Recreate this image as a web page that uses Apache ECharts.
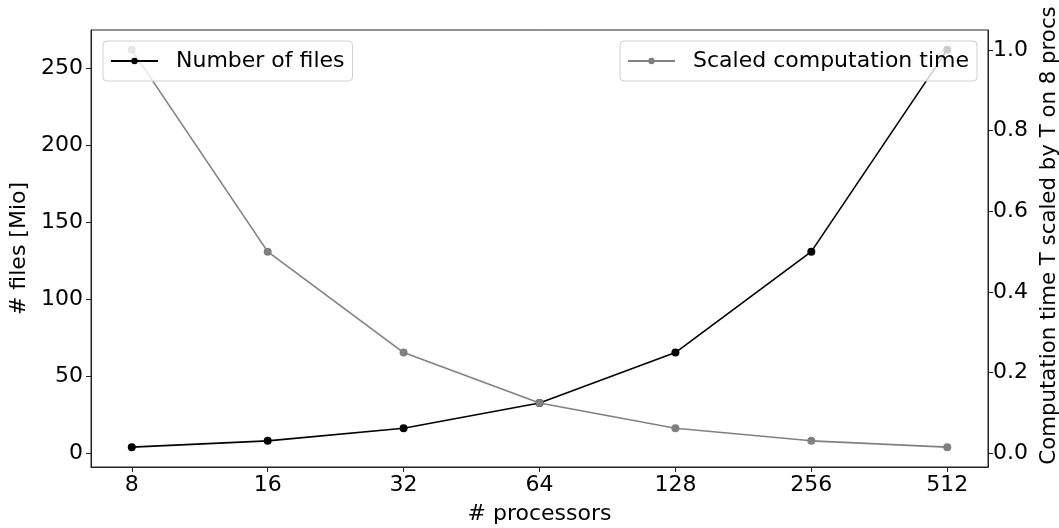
<!DOCTYPE html>
<html>
<head>
<meta charset="utf-8">
<script src="https://cdn.jsdelivr.net/npm/echarts@6/dist/echarts.min.js"></script>
<style>
  html, body { margin: 0; padding: 0; background: #fff; }
  #chart { width: 1059px; height: 528px; }
</style>
</head>
<body>
<div id="chart"></div>
<script>
// processors on the x axis
const procs = ['8', '16', '32', '64', '128', '256', '512']
// number of files in Mio (left axis)
const numFiles = [4.096, 8.192, 16.384, 32.768, 65.536, 131.072, 262.144]
// computation time scaled by T on 8 procs (right axis)
const scaledTime = [1.0, 0.5, 0.25, 0.125, 0.0625, 0.03125, 0.015625]
// tick labels
const xTicks = [0, 1, 2, 3, 4, 5, 6]
const leftTicks = [0, 50, 100, 150, 200, 250]
const rightTicks = [0, 0.2, 0.4, 0.6, 0.8, 1.0]

const font = 'DejaVu Sans'
const fs = 22
const chart = echarts.init(document.getElementById('chart'))

const legendBase = {
  orient: 'horizontal',
  top: 41,
  itemWidth: 47,
  itemHeight: 8,
  padding: [9, 8, 9, 7],
  backgroundColor: 'rgba(255,255,255,0.8)',
  borderColor: '#d0d0d0',
  borderWidth: 1,
  borderRadius: 4,
  textStyle: { fontFamily: font, fontSize: fs, color: '#000', padding: [0, 0, 0, 13] }
}

const axisLineStyle = { show: true, onZero: false, lineStyle: { color: '#222', width: 1 } }

const option = {
  animation: false,
  backgroundColor: '#fff',
  grid: {
    left: 91, right: 71, top: 30, bottom: 61,
    outerBoundsMode: 'none',
    containLabel: false,
    show: true, borderColor: '#222', borderWidth: 1, backgroundColor: 'transparent'
  },
  legend: [
    Object.assign({}, legendBase, { left: 103, data: ['Number of files'] }),
    Object.assign({}, legendBase, { right: 82, data: ['Scaled computation time'] })
  ],
  xAxis: {
    type: 'value',
    min: -0.3,
    max: 6.3,
    name: '# processors',
    nameLocation: 'middle',
    nameGap: 36,
    nameTextStyle: { fontFamily: font, fontSize: fs, color: '#000' },
    axisLine: axisLineStyle,
    axisTick: { show: true, length: 5, lineStyle: { color: '#222' }, customValues: xTicks },
    axisLabel: {
      fontFamily: font, fontSize: fs, color: '#000', margin: 7,
      customValues: xTicks,
      formatter: (v) => procs[Math.round(v)]
    },
    splitLine: { show: false }
  },
  yAxis: [
    {
      type: 'value',
      position: 'left',
      min: -8.806,
      max: 275.046,
      name: '# files [Mio]',
      nameLocation: 'middle',
      nameRotate: 90,
      nameGap: 58,
      nameTextStyle: { fontFamily: font, fontSize: fs, color: '#000' },
      axisLine: axisLineStyle,
      axisTick: { show: true, length: 5, lineStyle: { color: '#222' }, customValues: leftTicks },
      axisLabel: {
        fontFamily: font, fontSize: fs, color: '#000', margin: 8,
        customValues: leftTicks,
        formatter: (v) => String(v)
      },
      splitLine: { show: false }
    },
    {
      type: 'value',
      position: 'right',
      min: -0.0336,
      max: 1.0492,
      name: 'Computation time T scaled by T on 8 procs',
      nameLocation: 'middle',
      nameRotate: 90,
      nameGap: 47,
      nameTextStyle: { fontFamily: font, fontSize: 21.3, color: '#000', padding: [0, 0, 0, 26] },
      axisLine: axisLineStyle,
      axisTick: { show: true, length: 5, lineStyle: { color: '#222' }, customValues: rightTicks },
      axisLabel: {
        fontFamily: font, fontSize: fs, color: '#000', margin: 5,
        customValues: rightTicks,
        formatter: (v) => v.toFixed(1)
      },
      splitLine: { show: false }
    }
  ],
  series: [
    {
      name: 'Number of files',
      type: 'line',
      yAxisIndex: 0,
      data: numFiles.map((v, i) => [i, v]),
      symbol: 'circle',
      symbolSize: 8,
      lineStyle: { color: '#000', width: 1.6 },
      itemStyle: { color: '#000' },
      z: 2
    },
    {
      name: 'Scaled computation time',
      type: 'line',
      yAxisIndex: 1,
      data: scaledTime.map((v, i) => [i, v]),
      symbol: 'circle',
      symbolSize: 8,
      lineStyle: { color: '#808080', width: 1.6 },
      itemStyle: { color: '#808080' },
      z: 3
    }
  ]
}

chart.setOption(option)
</script>
</body>
</html>
